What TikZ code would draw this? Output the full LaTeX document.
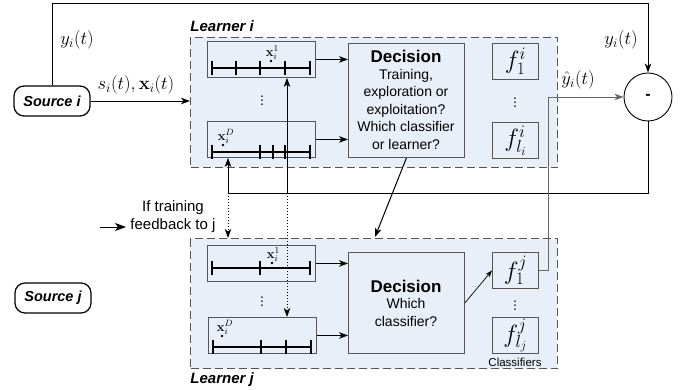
\RequirePackage{fix-cm}
\documentclass[tikz,border=0pt]{standalone}
\usepackage[no-math]{fontspec}
\setmainfont{Liberation Sans}
\usetikzlibrary{arrows.meta,calc}
\definecolor{panel}{HTML}{E9EFF8}
\definecolor{edge}{HTML}{555555}
\begin{document}
\begin{tikzpicture}[x=1pt,y=-1pt,
  line width=0.9pt,
  tip/.style={-{Stealth[length=9pt,width=6.5pt,inset=2.5pt]}},
  learner/.style={draw=edge, fill=panel, dash pattern=on 8pt off 4pt, line width=1pt,
                  anchor=north west, inner sep=0pt},
  featbox/.style={draw=edge, line width=0.9pt, anchor=north west, inner sep=0pt,
                  minimum width=108, minimum height=36},
  decbox/.style={draw=edge, fill=panel, line width=0.9pt, anchor=north west, inner sep=0pt,
                 minimum width=116, align=center},
  clfbox/.style={draw=edge, line width=0.9pt, anchor=north west, inner sep=0pt,
                 minimum width=46, minimum height=36},
  clftext/.style={inner sep=0pt, font=\fontsize{25}{28}\selectfont},
  srcbox/.style={draw, line width=1.2pt, rounded corners=10pt, minimum width=76,
                 minimum height=30, inner sep=0pt, font=\fontsize{14.5}{16}\selectfont\bfseries\itshape},
  lbl/.style={font=\fontsize{15}{17}\selectfont\bfseries\itshape, anchor=west, inner sep=0pt},
  mlbl/.style={font=\fontsize{18.5}{20}\selectfont, inner sep=0pt},
  vdot/.style={font=\fontsize{14}{16}\selectfont, inner sep=0pt},
  tick/.style={line width=1.5pt},
  xlab/.style={font=\fontsize{13}{14}\selectfont, inner sep=0pt, anchor=south west},
  dec/.style={font=\fontsize{14}{17.5}\selectfont},
]
\useasboundingbox (0,0) rectangle (690,390);

% ---- learner panels ----
\node[learner, minimum width=367, minimum height=130] (Li) at (190,37) {};
\node[learner, minimum width=367, minimum height=130] (Lj) at (190,238) {};
\node[lbl] (Lilab) at (190,26) {Learner i};
\node[lbl] (Ljlab) at (190,380) {Learner j};

% ---- sources ----
\node[srcbox] (si) at (52,101) {Source i};
\node[srcbox] (sj) at (53,298) {Source j};

% ---- feature boxes of learner i ----
\node[featbox] (fa1) at (207,41) {};
\node[featbox] (faD) at (207,121) {};
% ---- feature boxes of learner j ----
\node[featbox] (fb1) at (207,245) {};
\node[featbox] (fbD) at (208,317) {};

% scales inside the feature boxes
\foreach \yy/\ticks in {68/{212,236,260,285,310}, 152/{212,260,273,285,310},
                        268/{212,260,310}, 347/{213,261,286,311}}{
  \draw[tick] (212,\yy) -- (310,\yy);
  \foreach \t in \ticks { \draw[tick] (\t,\yy-7) -- (\t,\yy+7); }
}
% sample points with their labels
\fill (271,61) circle (1.4pt);
\node[xlab] (xa1) at (265.5,60) {$\mathbf{x}_i^1$};
\fill (223,145) circle (1.4pt);
\node[xlab] (xaD) at (217.5,144) {$\mathbf{x}_i^D$};
\fill (272,263) circle (1.4pt);
\node[xlab] (xb1) at (266.5,262) {$\mathbf{x}_i^1$};
\fill (222,336) circle (1.4pt);
\node[xlab] (xbD) at (216.5,335) {$\mathbf{x}_i^D$};

% vertical ellipses
\node[vdot] (va) at (262,98) {$\vdots$};
\node[vdot] (vb) at (262,299) {$\vdots$};
\node[vdot] (vc) at (515,100) {$\vdots$};
\node[vdot] (vd) at (515,303) {$\vdots$};

% ---- decision blocks ----
\node[decbox, minimum height=114] (di) at (348,43) {};
\node[dec, align=center] (dit) at (406,100)
  {{\fontsize{17}{20}\selectfont\bfseries Decision}\\[-1pt]Training,\\exploration or\\exploitation?\\Which classifier\\or learner?};
\node[decbox, minimum height=101] (dj) at (348,252) {};
\node[dec, align=center] (djt) at (406,303)
  {{\fontsize{17}{20}\selectfont\bfseries Decision}\\[-1pt]Which\\classifier?};

% ---- classifiers ----
\node[clfbox] (f1i) at (492,43) {};
\node[clftext] at (f1i.center) {$f_1^i$};
\node[clfbox] (fli) at (492,122) {};
\node[clftext] at (fli.center) {$f_{l_i}^i$};
\node[clfbox] (f1j) at (492,252) {};
\node[clftext] at (f1j.center) {$f_1^j$};
\node[clfbox] (flj) at (492,317) {};
\node[clftext] at (flj.center) {$f_{l_j}^j$};
\node[font=\fontsize{11.5}{13}\selectfont, inner sep=0pt] (clab) at (515,362) {Classifiers};

% ---- comparator ----
\node[draw, circle, minimum size=48, inner sep=0pt, line width=0.9pt,
      font=\fontsize{16}{18}\selectfont\bfseries] (minus) at (648,97) {-};

% ---- signal paths ----
\draw[tip] (si.east) -- (si.east -| Li.west);
\node[mlbl] (sx) at (136,85) {$s_i(t),\mathbf{x}_i(t)$};

\coordinate (top) at (0,3);
\draw[tip] (si.north) -- (si.north |- top) -| (minus.north);
\node[mlbl] (yl) at (77,40) {$y_i(t)$};
\node[mlbl] (yr) at (621,40) {$y_i(t)$};

\draw[tip] (fa1.east) -- (fa1.east -| di.west);
\draw[tip] (faD.east) -- (faD.east -| di.west);
\draw[tip] (fb1.east) -- (fb1.east -| dj.west);
\draw[tip] (fbD.east) -- (fbD.east -| dj.west);

% feedback from the comparator
\coordinate (ca) at (228,193);
\coordinate (cb) at (287,193);
\draw[tip] (minus.south) |- (ca) -- (ca |- faD.south);
\draw[tip] (cb) -- (cb |- fa1.south);
\draw[tip, dotted, line width=1pt] (ca) -- (ca |- Lj.north);
\draw[tip, dotted, line width=1pt] (cb) -- (cb |- fbD.north);

% decision of learner i handed to learner j
\coordinate (dtgt) at (375,237);
\draw[tip, line width=1pt] (di.south) -- (dtgt);

% decision of learner j picks a classifier
\draw[-{Stealth[length=7pt,width=5pt,inset=2pt]}, line width=0.7pt] (dj.east) -- (f1j.west);

% prediction sent to the comparator
\draw[tip, draw=gray!80!black] (f1j.east) -- ++(10,0) |- (minus.west);
\node[mlbl] (yh) at (578,80) {$\hat{y}_i(t)$};

% legend
\coordinate (lg1) at (100,227);
\coordinate (lg2) at (126,227);
\draw[-{Stealth[length=11pt,width=8pt,inset=3pt]}] (lg1) -- (lg2);
\node[font=\fontsize{15}{18}\selectfont, align=center, inner sep=0pt] (lgt) at (173,217)
  {If training\\feedback to j};
\end{tikzpicture}
\end{document}
